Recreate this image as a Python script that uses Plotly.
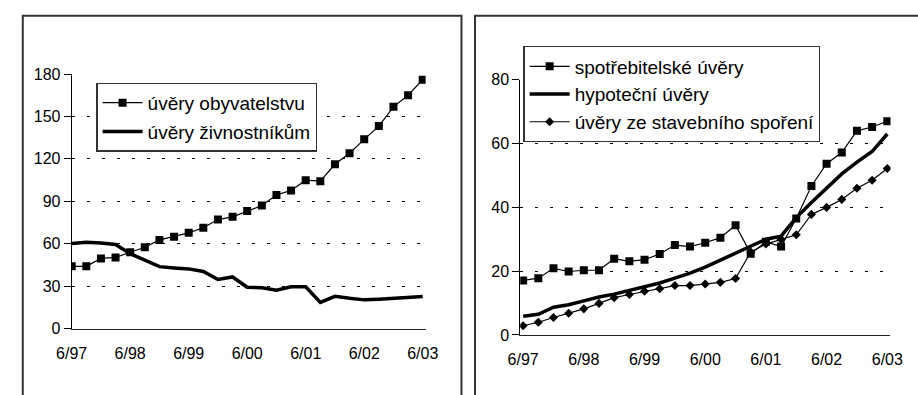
import plotly.graph_objects as go

W, H = 918, 395

# quarterly observations 6/97 .. 6/03
quarters = list(range(25))
tick_pos = [0, 4, 8, 12, 16, 20, 24]
tick_text = ["6/97", "6/98", "6/99", "6/00", "6/01", "6/02", "6/03"]

# left panel
obyvatelstvu = [44, 44, 49.6, 50.3, 54, 57.5, 62.7, 65, 67.7, 71.3, 77.1, 79, 83.2,
                87, 94.5, 97.7, 104.9, 104.2, 116.2, 124, 133.8, 143.2, 156.8, 165, 176]
zivnostnikum = [60.2, 61, 60.5, 59.5, 53, 48.5, 43.8, 42.9, 42.2, 40.4, 34.7, 36.5, 29.3,
                28.9, 27.1, 29.6, 29.6, 18.5, 22.8, 21.4, 20.3, 20.8, 21.4, 22, 22.6]

# right panel
spotrebitelske = [17.1, 17.8, 20.9, 19.9, 20.3, 20.3, 23.9, 23.1, 23.6, 25.4, 28.2, 27.7, 28.9,
                  30.5, 34.4, 25.5, 29.2, 27.7, 36.5, 46.7, 53.7, 57.2, 64, 65.2, 67]
hypotecni = [5.9, 6.5, 8.7, 9.5, 10.7, 11.9, 12.8, 14, 15.2, 16.3, 17.8, 19.4, 21.3,
             23.5, 25.7, 28, 30, 31, 36.8, 41.5, 46, 50.5, 54.2, 57.5, 63]
stavebni = [2.9, 4, 5.5, 6.8, 8.2, 9.9, 11.7, 12.7, 13.7, 14.5, 15.5, 15.5, 16,
            16.5, 17.7, 26, 28.5, 30, 31.4, 37.8, 40, 42.5, 46, 48.5, 52.2]

left_ticks = [0, 30, 60, 90, 120, 150, 180]
right_ticks = [0, 20, 40, 60, 80]

FONT = "Liberation Sans, Arial, sans-serif"

fig = go.Figure()

fig.add_trace(go.Scatter(x=quarters, y=obyvatelstvu, name="úvěry obyvatelstvu",
                         mode="lines+markers", line=dict(color="black", width=1.2),
                         marker=dict(symbol="square", size=8, color="black"),
                         xaxis="x", yaxis="y", legend="legend", legendgroup="a"))
fig.add_trace(go.Scatter(x=quarters, y=zivnostnikum, name="úvěry živnostníkům",
                         mode="lines", line=dict(color="black", width=3.5),
                         xaxis="x", yaxis="y", legend="legend", legendgroup="b"))

fig.add_trace(go.Scatter(x=quarters, y=spotrebitelske, name="spotřebitelské úvěry",
                         mode="lines+markers", line=dict(color="black", width=1.2),
                         marker=dict(symbol="square", size=8, color="black"),
                         xaxis="x2", yaxis="y2", legend="legend2", legendgroup="c"))
fig.add_trace(go.Scatter(x=quarters, y=hypotecni, name="hypoteční úvěry",
                         mode="lines", line=dict(color="black", width=3.5),
                         xaxis="x2", yaxis="y2", legend="legend2", legendgroup="d"))
fig.add_trace(go.Scatter(x=quarters, y=stavebni, name="úvěry ze stavebního spoření",
                         mode="lines+markers", line=dict(color="black", width=1.2),
                         marker=dict(symbol="diamond", size=7, color="black"),
                         xaxis="x2", yaxis="y2", legend="legend2", legendgroup="e"))

xcommon = dict(showgrid=False, zeroline=False, showline=True, linecolor="#222", linewidth=1.2,
               tickmode="array", tickvals=tick_pos, ticktext=tick_text, ticks="",
               ticklabelstandoff=10, tickfont=dict(family=FONT, size=16, color="black"))
ycommon = dict(showgrid=True, gridcolor="black", gridwidth=1, griddash="3px,12px",
               zeroline=False, showline=True, linecolor="black", linewidth=1,
               ticks="outside", ticklen=7, tickcolor="black", tickwidth=1,
               tickfont=dict(family=FONT, size=16, color="black"))

fig.update_layout(
    width=W, height=H,
    margin=dict(l=0, r=0, t=0, b=0),
    paper_bgcolor="white", plot_bgcolor="white",
    showlegend=True,
    xaxis=dict(domain=[57.5 / W, 423 / W], range=[0, 24.2], anchor="y", **xcommon),
    yaxis=dict(domain=[60 / H, 326 / H], range=[0, 180], tickvals=left_ticks,
               anchor="x", **ycommon),
    xaxis2=dict(domain=[520.7 / W, 903 / W], range=[-0.19, 24.21], anchor="y2", **xcommon),
    yaxis2=dict(domain=[53.3 / H, 320 / H], range=[0, 80], tickvals=right_ticks,
                anchor="x2", **ycommon),
    legend=dict(x=83 / W, y=(H - 78) / H, xanchor="left", yanchor="top",
                bgcolor="white", bordercolor="#333", borderwidth=1.2,
                font=dict(family=FONT, size=19, color="black"),
                tracegroupgap=1, traceorder="grouped", itemwidth=40),
    legend2=dict(x=524 / W, y=(H - 40) / H, xanchor="left", yanchor="top",
                 bgcolor="white", bordercolor="#333", borderwidth=1.2,
                 font=dict(family=FONT, size=19, color="black"),
                 tracegroupgap=0, traceorder="grouped", itemwidth=40),
    shapes=[
        dict(type="rect", xref="paper", yref="paper", x0=7 / W, x1=460 / W,
             y0=-0.2, y1=(H - 8) / H, line=dict(color="#333", width=2), layer="below"),
        dict(type="rect", xref="paper", yref="paper", x0=474 / W, x1=1.2,
             y0=-0.2, y1=(H - 8) / H, line=dict(color="#333", width=2), layer="below"),
    ],
)

fig.write_html("out.html")
